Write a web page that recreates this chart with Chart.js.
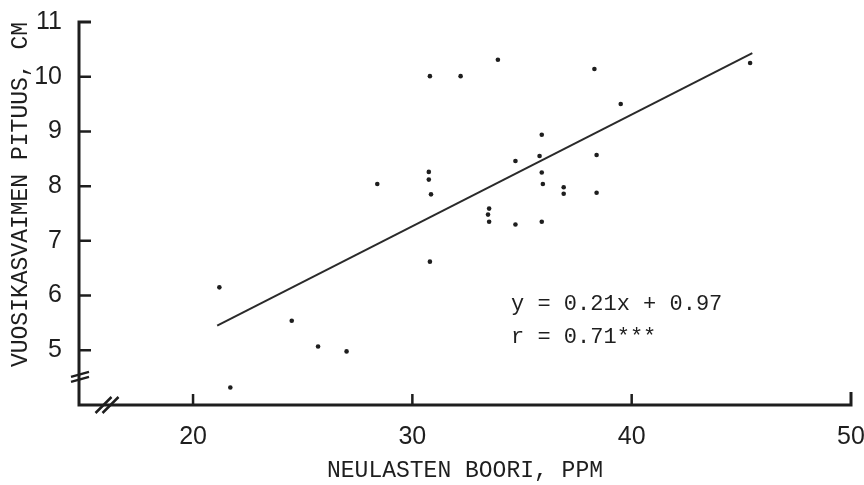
<!DOCTYPE html>
<html lang="fi">
<head>
<meta charset="UTF-8">
<title>Neulasten boori ja vuosikasvain</title>
<script src="https://cdn.jsdelivr.net/npm/chart.js"></script>
<style>
  html, body { margin: 0; padding: 0; background: #fff; }
  #wrap { width: 864px; height: 485px; }
</style>
</head>
<body>
<div id="wrap"><canvas id="chart" width="864" height="485"></canvas></div>
<script>
// boron in needles (ppm) vs. annual leader length (cm)
const boronPpm = [21.2, 21.7, 24.5, 25.7, 27.0, 28.4, 30.8, 30.75, 30.75, 30.85,
                  30.8, 32.2, 33.9, 33.5, 33.45, 33.5, 34.7, 34.7, 35.9, 35.8,
                  35.9, 35.95, 35.9, 36.9, 36.9, 38.3, 38.4, 38.4, 39.5, 45.4];
const leaderCm = [6.15, 4.32, 5.54, 5.07, 4.98, 8.04, 10.01, 8.26, 8.12, 7.85,
                  6.62, 10.01, 10.31, 7.59, 7.48, 7.35, 8.46, 7.30, 8.94, 8.55,
                  8.25, 8.04, 7.35, 7.98, 7.86, 10.14, 8.57, 7.88, 9.50, 10.25];

// regression line end points as drawn
const fitX = [21.1, 45.5];
const fitY = [5.45, 10.43];

const xTicks = [20, 30, 40, 50];
const yTicks = [5, 6, 7, 8, 9, 10, 11];

const ink = '#1e1e1e';

const points = boronPpm.map((v, i) => ({ x: v, y: leaderCm[i] }));
const fit = fitX.map((v, i) => ({ x: v, y: fitY[i] }));

// axes with inward ticks, axis breaks and the equation text
const axesPlugin = {
  id: 'axes',
  afterDatasetsDraw(chart) {
    const { ctx, chartArea: a, scales: { x, y } } = chart;
    ctx.save();
    ctx.strokeStyle = ink;
    ctx.lineWidth = 3;
    ctx.beginPath();
    ctx.moveTo(a.left + 12, y.getPixelForValue(11));
    ctx.lineTo(a.left, y.getPixelForValue(11));
    ctx.lineTo(a.left, a.bottom);
    ctx.lineTo(a.right, a.bottom);
    ctx.lineTo(a.right, a.bottom - 13);
    ctx.stroke();

    ctx.lineWidth = 2.5;
    ctx.beginPath();
    yTicks.slice(0, -1).forEach(v => {
      const py = y.getPixelForValue(v);
      ctx.moveTo(a.left, py);
      ctx.lineTo(a.left + 12, py);
    });
    xTicks.slice(0, -1).forEach(v => {
      const px = x.getPixelForValue(v);
      ctx.moveTo(px, a.bottom);
      ctx.lineTo(px, a.bottom - 11);
    });
    ctx.stroke();

    // breaks
    const yb = y.getPixelForValue(4.55);
    ctx.beginPath();
    [0, 5].forEach(d => {
      ctx.moveTo(a.left - 8, yb + d + 2);
      ctx.lineTo(a.left + 10, yb + d - 3);
    });
    const xb = x.getPixelForValue(16.1);
    [-4, 3].forEach(d => {
      ctx.moveTo(xb + d - 8, a.bottom + 8);
      ctx.lineTo(xb + d + 8, a.bottom - 8);
    });
    ctx.stroke();

    ctx.fillStyle = ink;
    ctx.font = '22px "Liberation Mono", "DejaVu Sans Mono", monospace';
    ctx.textBaseline = 'middle';
    ctx.textAlign = 'left';
    const tx = x.getPixelForValue(34.5);
    ctx.fillText('y = 0.21x + 0.97', tx, y.getPixelForValue(5.84));
    ctx.fillText('r = 0.71***', tx, y.getPixelForValue(5.24));
    ctx.restore();
  }
};

new Chart(document.getElementById('chart'), {
  type: 'scatter',
  data: {
    datasets: [
      {
        data: points,
        pointRadius: 2.3,
        pointBackgroundColor: ink,
        pointBorderWidth: 0
      },
      {
        type: 'line',
        data: fit,
        borderColor: '#2a2a2a',
        borderWidth: 2,
        pointRadius: 0,
        fill: false
      }
    ]
  },
  options: {
    responsive: false,
    animation: false,
    devicePixelRatio: 1,
    layout: { padding: { top: 22, right: 13, left: 0, bottom: 0 } },
    plugins: { legend: { display: false }, tooltip: { enabled: false } },
    scales: {
      x: {
        type: 'linear',
        min: 14.8,
        max: 50,
        afterBuildTicks: s => { s.ticks = xTicks.map(v => ({ value: v })); },
        afterFit: s => {
          s.height = 80;
          s.paddingLeft = 0;
          s.paddingRight = 0;
        },
        grid: { display: false, drawTicks: false },
        border: { display: false },
        ticks: {
          color: ink,
          padding: 17,
          maxRotation: 0,
          font: { family: '"Liberation Sans", Arial, sans-serif', size: 25 }
        },
        title: {
          display: true,
          text: 'NEULASTEN BOORI, PPM',
          color: ink,
          padding: { top: 0, bottom: 0 },
          font: { family: '"Liberation Mono", monospace', size: 23 }
        }
      },
      y: {
        min: 4,
        max: 11,
        afterBuildTicks: s => { s.ticks = yTicks.map(v => ({ value: v })); },
        afterFit: s => {
          s.width = 79;
          s.paddingTop = 0;
          s.paddingBottom = 0;
        },
        grid: { display: false, drawTicks: false },
        border: { display: false },
        ticks: {
          color: ink,
          padding: 17,
          font: { family: '"Liberation Sans", Arial, sans-serif', size: 25 }
        },
        title: {
          display: true,
          text: 'VUOSIKASVAIMEN PITUUS, CM',
          color: ink,
          align: 'end',
          padding: { top: 7, bottom: 0 },
          font: { family: '"Liberation Mono", monospace', size: 23 }
        }
      }
    }
  },
  plugins: [axesPlugin]
});
</script>
</body>
</html>
